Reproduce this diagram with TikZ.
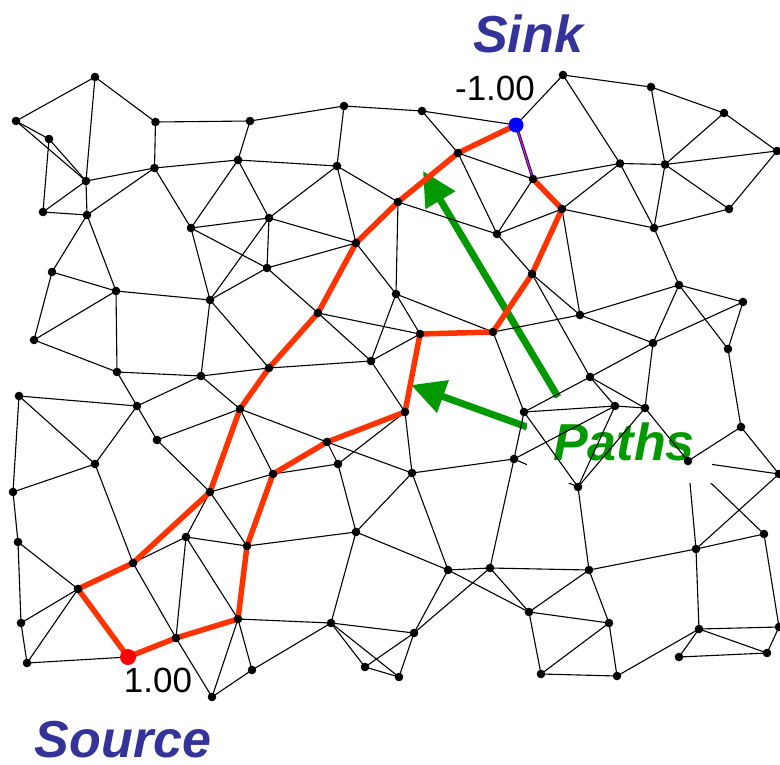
\documentclass[tikz,border=0pt]{standalone}
\usepackage{fontspec}
\setmainfont{Liberation Sans}
\usetikzlibrary{arrows.meta}
\definecolor{lblue}{HTML}{333399}
\definecolor{pgreen}{HTML}{009900}
\definecolor{pred}{HTML}{FF3300}
\begin{document}
\begin{tikzpicture}[x=1pt,y=-1pt,
  edge/.style={line width=1.1pt,black},
  redpath/.style={line width=5.5pt,pred,line join=round,line cap=round},
  greenarrow/.style={line width=7pt,pgreen,-{Triangle[length=34pt,width=33pt]}},
  biglabel/.style={font=\fontsize{52}{52}\selectfont\bfseries\itshape,inner sep=0pt},
  numlabel/.style={font=\fontsize{35}{35}\selectfont,inner sep=0pt}]
\useasboundingbox (0,0) rectangle (780,764);
% vertices
\coordinate (a1) at (95,77);
\coordinate (a2) at (16,121);
\coordinate (a3) at (49,139);
\coordinate (a4) at (155.5,122);
\coordinate (a5) at (250,121);
\coordinate (a6) at (344,106);
\coordinate (a7) at (422,111);
\coordinate (snk) at (516,125);
\coordinate (a9) at (563,75);
\coordinate (a10) at (651,87);
\coordinate (a11) at (724,113);
\coordinate (a12) at (777,151);
\coordinate (b1) at (86,181);
\coordinate (b2) at (154.5,168);
\coordinate (b3) at (238,160);
\coordinate (b4) at (337,166);
\coordinate (b5) at (458,153);
\coordinate (b6) at (533,179);
\coordinate (b7) at (620,163.5);
\coordinate (b8) at (665,164.5);
\coordinate (b9) at (43,212);
\coordinate (b10) at (87,215);
\coordinate (b11) at (191,228);
\coordinate (b12) at (269,218);
\coordinate (b13) at (398,202);
\coordinate (b14) at (562,209);
\coordinate (b15) at (729,209);
\coordinate (b16) at (654,228);
\coordinate (b17) at (356,243);
\coordinate (b18) at (497,234);
\coordinate (c1) at (52,272);
\coordinate (c2) at (116,291);
\coordinate (c3) at (210,300);
\coordinate (c4) at (267,268);
\coordinate (c5) at (396,294);
\coordinate (c6) at (318,313);
\coordinate (c7) at (532,274);
\coordinate (c8) at (580,315);
\coordinate (c9) at (679,285);
\coordinate (c10) at (743,302);
\coordinate (c11) at (34,340);
\coordinate (c12) at (420,334);
\coordinate (c13) at (493,332);
\coordinate (c14) at (653,343);
\coordinate (c15) at (728,349);
\coordinate (c16) at (117,372);
\coordinate (c17) at (201,376);
\coordinate (c18) at (269,368);
\coordinate (c19) at (371,361);
\coordinate (c20) at (590,377);
\coordinate (d1) at (19,396);
\coordinate (d2) at (137,406);
\coordinate (d3) at (240,409);
\coordinate (d4) at (405,412);
\coordinate (d5) at (524,412);
\coordinate (d6) at (615,406);
\coordinate (d7) at (645,408);
\coordinate (d8) at (741,427);
\coordinate (d9) at (157,440);
\coordinate (d10) at (327,442);
\coordinate (d11) at (95,464);
\coordinate (d12) at (338,464);
\coordinate (d13) at (273,474);
\coordinate (d14) at (412,473);
\coordinate (d15) at (514,459);
\coordinate (d16) at (688,461);
\coordinate (d17) at (779,474);
\coordinate (d18) at (13,492);
\coordinate (d19) at (210,492);
\coordinate (d20) at (578,487);
\coordinate (e1) at (18,542);
\coordinate (e2) at (186,537);
\coordinate (e3) at (247,546);
\coordinate (e4) at (356,532);
\coordinate (e5) at (133,563);
\coordinate (e6) at (78,589);
\coordinate (e7) at (448,570);
\coordinate (e8) at (490,568);
\coordinate (e9) at (589,570);
\coordinate (e10) at (696,549);
\coordinate (e11) at (764,534);
\coordinate (e12) at (21,623);
\coordinate (e13) at (238,619);
\coordinate (e14) at (176,638);
\coordinate (src) at (128,657);
\coordinate (e16) at (27,663);
\coordinate (e17) at (252,670);
\coordinate (e18) at (212,697);
\coordinate (e19) at (331,623);
\coordinate (e20) at (414,633);
\coordinate (e21) at (365,667);
\coordinate (e22) at (399,677);
\coordinate (e23) at (529,612);
\coordinate (e24) at (609,623);
\coordinate (e25) at (541,674);
\coordinate (e26) at (617,676);
\coordinate (e27) at (699,629);
\coordinate (e28) at (679,657);
\coordinate (e29) at (767,653);
\coordinate (e30) at (779,627);
% edges hidden partly by the label box
\foreach \u/\v in {d15/d20,d16/d17,d16/e10,d16/e11}
  \draw[edge] (\u) -- (\v);
% green arrows
\coordinate (g1) at (558,397);
\coordinate (g1t) at (423,171);
\coordinate (g2) at (527,427);
\coordinate (g2t) at (411,385);
\draw[greenarrow] (g1) -- (g1t);
\draw[greenarrow] (g2) -- (g2t);
% label box and label
\fill[white] (527,398) rectangle (712,483);
\node[biglabel,text=pgreen,anchor=base] (paths) at (624,460) {Paths};
% remaining edges
\foreach \u/\v in {a1/a2,a1/a4,a1/b1,a2/a3,a2/b1,a3/b1,a3/b9,a4/a5,a4/b2,a5/a6,a5/b3,a6/a7,a6/b4,a7/snk,a7/b5,snk/a9,a9/a10,a9/b7,a10/a11,a10/b8,a11/a12,a11/b8,a12/b8,a12/b15,
  b1/b2,b1/b9,b1/b10,b2/b3,b2/b10,b2/b11,b3/b4,b3/b11,b3/b12,b4/b12,b4/b13,b4/b17,b5/b6,b5/b18,b6/b7,b6/b18,b7/b8,b7/b14,b7/b16,b8/b15,b8/b16,b9/b10,b10/c1,b10/c2,b11/b12,b11/c4,b11/c3,b12/b17,b12/c4,b12/c3,b13/b18,b13/c5,b14/b16,b14/b18,b14/c8,b15/b16,b16/c9,b17/c4,b17/c5,b18/c7,
  c1/c2,c1/c11,c2/c3,c2/c11,c2/c16,c3/c4,c3/c17,c3/c18,c4/c6,c5/c19,c5/c12,c5/c13,c6/c12,c6/c19,c19/c12,c7/c8,c7/c20,c8/c13,c8/c9,c8/c14,c9/c10,c9/c14,c9/c15,c10/c14,c10/c15,c11/c16,c13/d5,c14/c20,c14/d7,c15/d8,c16/c17,c16/d2,c17/c18,c17/d2,c17/d3,c18/c19,c19/d4,c20/d5,c20/d6,c20/d7,
  d1/d2,d1/d11,d1/d18,d2/d11,d2/d9,d3/d9,d3/d13,d3/d10,d10/d14,d4/d12,d4/d14,d5/d6,d5/d15,d5/d20,d6/d7,d6/d15,d6/d20,d7/d20,d7/d16,d8/d16,d8/d17,d9/d19,d10/d12,d11/d18,d11/e5,d12/d13,d12/e4,d13/d19,d14/d15,d14/e4,d14/e7,d15/e8,d17/e10,d18/e1,d19/e2,d19/e3,d20/e9,
  e1/e12,e1/e6,e2/e5,e2/e3,e2/e14,e2/e13,e3/e4,e4/e7,e4/e19,e5/e14,e6/e12,e6/e16,e7/e8,e7/e23,e7/e20,e8/e23,e8/e20,e8/e9,e9/e10,e9/e23,e9/e24,e10/e11,e10/e27,e11/e30,e12/e16,e13/e18,e13/e17,e13/e19,e14/e18,src/e16,e17/e19,e17/e18,e19/e20,e19/e21,e19/e22,e20/e21,e20/e22,e21/e22,e23/e24,e23/e25,e24/e25,e24/e26,e25/e26,e26/e27,e27/e30,e27/e28,e27/e29,e28/e29,e29/e30}
  \draw[edge] (\u) -- (\v);
% paths
\draw[redpath] (src) -- (e6) -- (e5) -- (d19) -- (d3) -- (c18) -- (c6) -- (b17) -- (b13) -- (b5) -- (snk);
\draw[redpath] (src) -- (e14) -- (e13) -- (e3) -- (d13) -- (d10) -- (d4) -- (c12) -- (c13) -- (c7) -- (b14) -- (b6);
\draw[blue,line width=3pt] (snk) -- (b6);
\draw[pred,line width=1.1pt] (snk) -- (b6);
% vertex dots
\foreach \n in {a1,a2,a3,a4,a5,a6,a7,a9,a10,a11,a12,b1,b2,b3,b4,b5,b6,b7,b8,b9,b10,b11,b12,b13,b14,b15,b16,b17,b18,
  c1,c2,c3,c4,c5,c6,c7,c8,c9,c10,c11,c12,c13,c14,c15,c16,c17,c18,c19,c20,
  d1,d2,d3,d4,d5,d6,d7,d8,d9,d10,d11,d12,d13,d14,d15,d16,d17,d18,d19,d20,
  e1,e2,e3,e4,e5,e6,e7,e8,e9,e10,e11,e12,e13,e14,e16,e17,e18,e19,e20,e21,e22,e23,e24,e25,e26,e27,e28,e29,e30}
  \fill[black] (\n) circle[radius=4.3];
\fill[blue] (snk) circle[radius=7.5];
\fill[red] (src) circle[radius=8];
% labels
\node[biglabel,text=lblue,anchor=base] (sinklabel) at (528,52) {Sink};
\node[biglabel,text=lblue,anchor=base] (sourcelabel) at (123,757) {Source};
\node[numlabel,anchor=base] (sinkval) at (495,100) {-1.00};
\node[numlabel,anchor=base] (srcval) at (158,692) {1.00};
\end{tikzpicture}
\end{document}
